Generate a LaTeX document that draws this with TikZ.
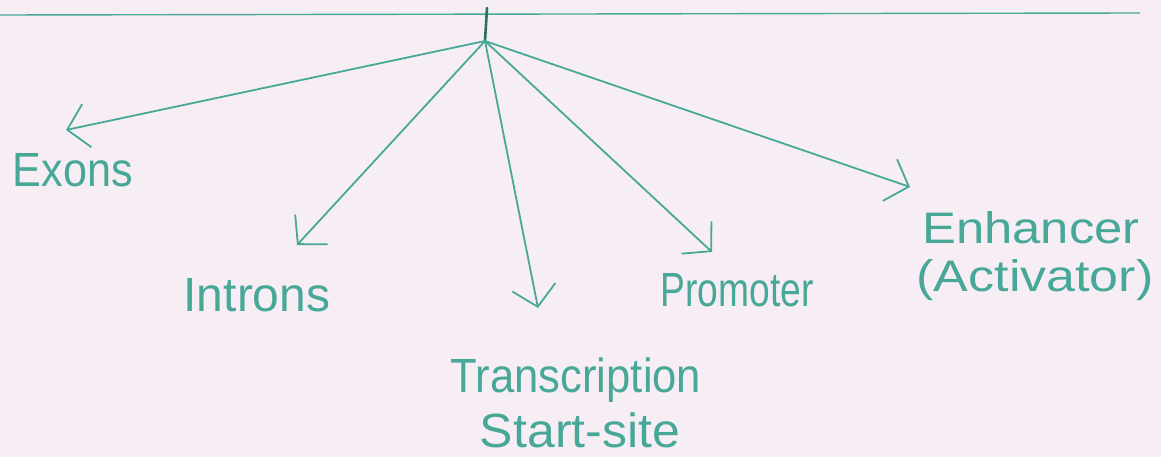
\documentclass[tikz,border=0pt]{standalone}
\usepackage{fontspec}
\setmainfont{Liberation Sans}
\usetikzlibrary{arrows.meta}
\definecolor{ink}{RGB}{72,168,152}
\definecolor{inkdark}{RGB}{40,115,95}
\definecolor{paper}{RGB}{247,238,245}
\tikzset{
  link/.style={draw=ink, line width=1.8pt, -{Straight Barb[length=20pt,width=44pt,line width=1.8pt]}},
  lbl/.style={text=ink, font=\fontsize{40}{44}\selectfont, inner sep=0pt, yscale=1.2, transform shape},
}
\begin{document}
\begin{tikzpicture}[x=1pt,y=-1pt]
\fill[paper] (0,0) rectangle (1161,457);
\useasboundingbox (0,0) rectangle (1161,457);
% top line
\coordinate (L1) at (0,15);
\coordinate (L2) at (1140,13);
\draw[ink, line width=1.4pt] (L1) -- (L2);
% hub
\coordinate (top) at (487,8);
\coordinate (hub) at (485,41);
\draw[inkdark, line width=2.6pt, line cap=round] (top) -- (hub);
% arrow tips
\coordinate (tEx) at (66,130);
\coordinate (tIn) at (297,245);
\coordinate (tTs) at (538,308);
\coordinate (tPr) at (712,252);
\coordinate (tEn) at (910,187);
% labels
\node[lbl, xscale=1.08] (exons) at (73,170) {Exons};
\node[lbl, xscale=1.2] (introns) at (257,295) {Introns};
\node[lbl, xscale=1.09] (trans) at (576,380) {Transcription};
\node[lbl, xscale=1.25] (start) at (580,430) {Start-site};
\node[lbl, xscale=0.93] (prom) at (737,290) {Promoter};
\node[lbl, xscale=1.27, yscale=0.92] (enh) at (1031,228) {Enhancer};
\node[lbl, xscale=1.3, yscale=0.92] (act) at (1035,280) {(Activator)};
% connectors
\draw[link] (hub) -- (tEx);
\draw[link] (hub) -- (tIn);
\draw[link] (hub) -- (tTs);
\draw[link] (hub) -- (tPr);
\draw[link] (hub) -- (tEn);
\end{tikzpicture}
\end{document}
